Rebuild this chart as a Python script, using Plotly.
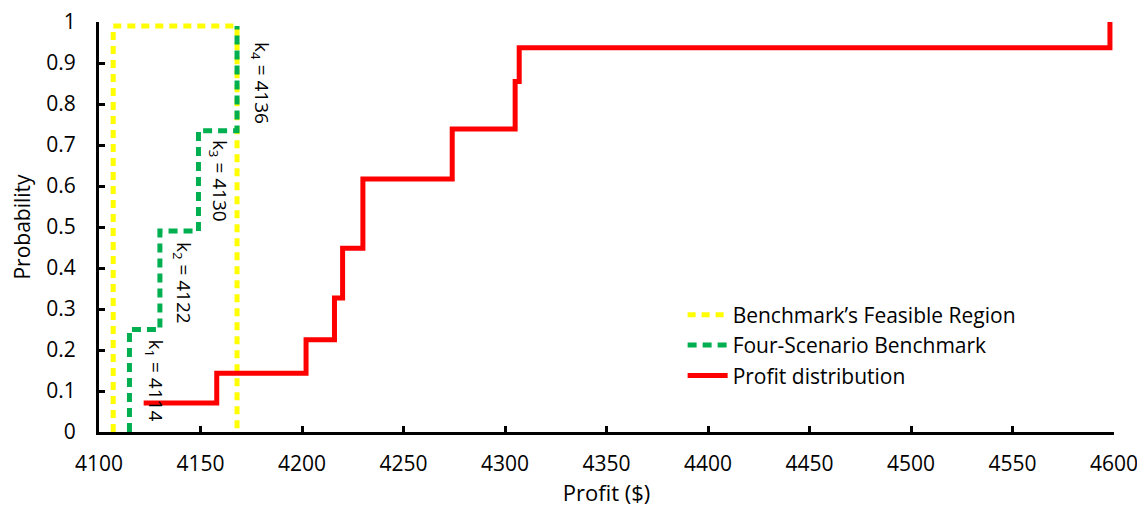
import plotly.graph_objects as go

# Benchmark's feasible region (rectangle outline)
feas_x = [4107, 4107, 4168, 4168]
feas_y = [0, 0.99, 0.99, 0]

# Four-scenario benchmark (step)
bench_x = [4115, 4115, 4130, 4130, 4149, 4149, 4168, 4168]
bench_y = [0, 0.25, 0.25, 0.49, 0.49, 0.735, 0.735, 0.99]

# Profit distribution (empirical CDF, horizontal-then-vertical steps)
prof_x = [4122, 4158, 4202, 4216, 4220, 4230, 4274, 4305, 4307, 4598]
prof_y = [0.071, 0.143, 0.225, 0.327, 0.448, 0.617, 0.739, 0.855, 0.937, 1.0]

# Axis ticks
y_ticks = [0, 0.1, 0.2, 0.3, 0.4, 0.5, 0.6, 0.7, 0.8, 0.9, 1]
y_tick_text = ["0", "0.1", "0.2", "0.3", "0.4", "0.5", "0.6", "0.7", "0.8", "0.9", "1"]

# Scenario labels
lab_text = ["k<sub>1</sub> = 4114", "k<sub>2</sub> = 4122",
            "k<sub>3</sub> = 4130", "k<sub>4</sub> = 4136"]
lab_x = [4127.5, 4141.5, 4159.5, 4180]
lab_y = [0.126, 0.363, 0.613, 0.85]

FONT = "Open Sans"

fig = go.Figure()
fig.add_trace(go.Scatter(x=feas_x, y=feas_y, mode="lines",
                         name="Benchmark\u2019s Feasible Region",
                         line=dict(color="#FFFF00", width=5, dash="8px,6px")))
fig.add_trace(go.Scatter(x=bench_x, y=bench_y, mode="lines",
                         name="Four-Scenario Benchmark",
                         line=dict(color="#00B050", width=5, dash="9px,6px")))
fig.add_trace(go.Scatter(x=prof_x, y=prof_y, mode="lines",
                         name="Profit distribution",
                         line=dict(color="#FF0000", width=5, shape="hv")))

for t, x, y in zip(lab_text, lab_x, lab_y):
    fig.add_annotation(x=x, y=y, text=t, showarrow=False, textangle=90,
                       font=dict(family=FONT, size=19, color="black"))

fig.update_layout(
    width=1137, height=503,
    margin=dict(l=91, r=31, t=14, b=79, autoexpand=False),
    plot_bgcolor="white", paper_bgcolor="white",
    font=dict(family=FONT, size=21, color="black"),
    showlegend=True,
    legend=dict(x=0.575, y=0.335, xanchor="left", yanchor="top",
                bgcolor="rgba(0,0,0,0)", font=dict(family=FONT, size=21),
                tracegroupgap=0, itemwidth=40),
)
fig.update_xaxes(range=[4100, 4600], dtick=50, tick0=4100,
                 showgrid=False, zeroline=False, automargin=False,
                 showline=True, linecolor="black", linewidth=3,
                 ticks="inside", ticklen=6, tickwidth=3, tickcolor="black",
                 ticklabelstandoff=11, ticklabeloverflow="allow",
                 tickfont=dict(family=FONT, size=21),
                 title=dict(text="Profit ($)", font=dict(family=FONT, size=22), standoff=6))
fig.update_yaxes(range=[0, 1], tickmode="array", tickvals=y_ticks, ticktext=y_tick_text,
                 showgrid=False, zeroline=False, automargin=False,
                 showline=True, linecolor="black", linewidth=3,
                 ticks="inside", ticklen=6, tickwidth=3, tickcolor="black",
                 ticklabelstandoff=16, ticklabeloverflow="allow",
                 tickfont=dict(family=FONT, size=21),
                 title=dict(text="Probability", font=dict(family=FONT, size=21), standoff=17))

fig.write_html("out.html")
